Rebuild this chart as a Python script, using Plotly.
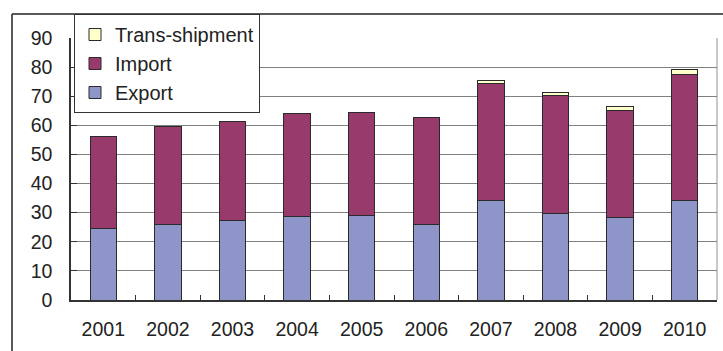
import plotly.graph_objects as go

years = ["2001", "2002", "2003", "2004", "2005", "2006", "2007", "2008", "2009", "2010"]
export_vals = [24.7, 25.9, 27.3, 28.7, 29.1, 26.0, 34.2, 29.6, 28.5, 34.2]
import_vals = [31.3, 33.7, 34.1, 35.4, 35.4, 36.7, 40.3, 40.8, 36.6, 43.4]
trans_vals = [0, 0, 0, 0, 0, 0, 0.9, 1.0, 1.2, 1.5]
y_ticks = [0, 10, 20, 30, 40, 50, 60, 70, 80, 90]

W, H = 723, 351
L, R, T, B = 71, 6, 38, 51
pw, ph = W - L - R, H - T - B

def px_x(px):
    return (px - L) / pw

def px_y(py):
    return (H - B - py) / ph

outline = dict(color="#2a2a2a", width=1)
fig = go.Figure()
fig.add_bar(x=years, y=export_vals, name="Export",
            marker=dict(color="#8E95C9", line=outline))
fig.add_bar(x=years, y=import_vals, name="Import",
            marker=dict(color="#983A6B", line=outline))
fig.add_bar(x=years, y=trans_vals, name="Trans-shipment",
            marker=dict(color="#FFFFCC", line=outline))

family = "Liberation Sans, Arial, sans-serif"
tick_font = dict(family=family, size=19.5, color="#222222")
legend_font = dict(family=family, size=20, color="#222222")

fig.update_layout(
    width=W, height=H,
    margin=dict(l=L, r=R, t=T, b=B, pad=0),
    barmode="stack", bargap=0.59,
    paper_bgcolor="white", plot_bgcolor="white",
    font=tick_font,
    showlegend=True,
    legend=dict(
        traceorder="reversed",
        x=px_x(74), y=px_y(14), xanchor="left", yanchor="top",
        bgcolor="white", bordercolor="#333333", borderwidth=1,
        font=legend_font, itemwidth=30,
    ),
    xaxis=dict(
        type="category", showgrid=False,
        showline=True, linecolor="#333333", linewidth=1.5,
        ticks="inside", tickson="boundaries", ticklen=5, tickcolor="#333333",
        ticklabelstandoff=11, tickfont=tick_font,
    ),
    yaxis=dict(
        range=[0, 90], tickvals=y_ticks,
        showgrid=True, gridcolor="#808080", gridwidth=1,
        showline=True, linecolor="#333333", linewidth=1.5,
        ticks="inside", ticklen=6, tickcolor="#333333",
        ticklabelstandoff=13, tickfont=tick_font, zeroline=False,
    ),
    shapes=[
        # plot-area right edge
        dict(type="line", xref="paper", yref="paper", x0=1, x1=1, y0=0, y1=1,
             line=dict(color="#909090", width=1)),
        # outer chart frame
        dict(type="line", xref="paper", yref="paper",
             x0=px_x(12), x1=px_x(W + 2), y0=px_y(14), y1=px_y(14),
             line=dict(color="#222222", width=1.5)),
        dict(type="line", xref="paper", yref="paper",
             x0=px_x(12), x1=px_x(12), y0=px_y(14), y1=px_y(H + 2),
             line=dict(color="#222222", width=1.5)),
    ],
)

fig.write_html("out.html")
